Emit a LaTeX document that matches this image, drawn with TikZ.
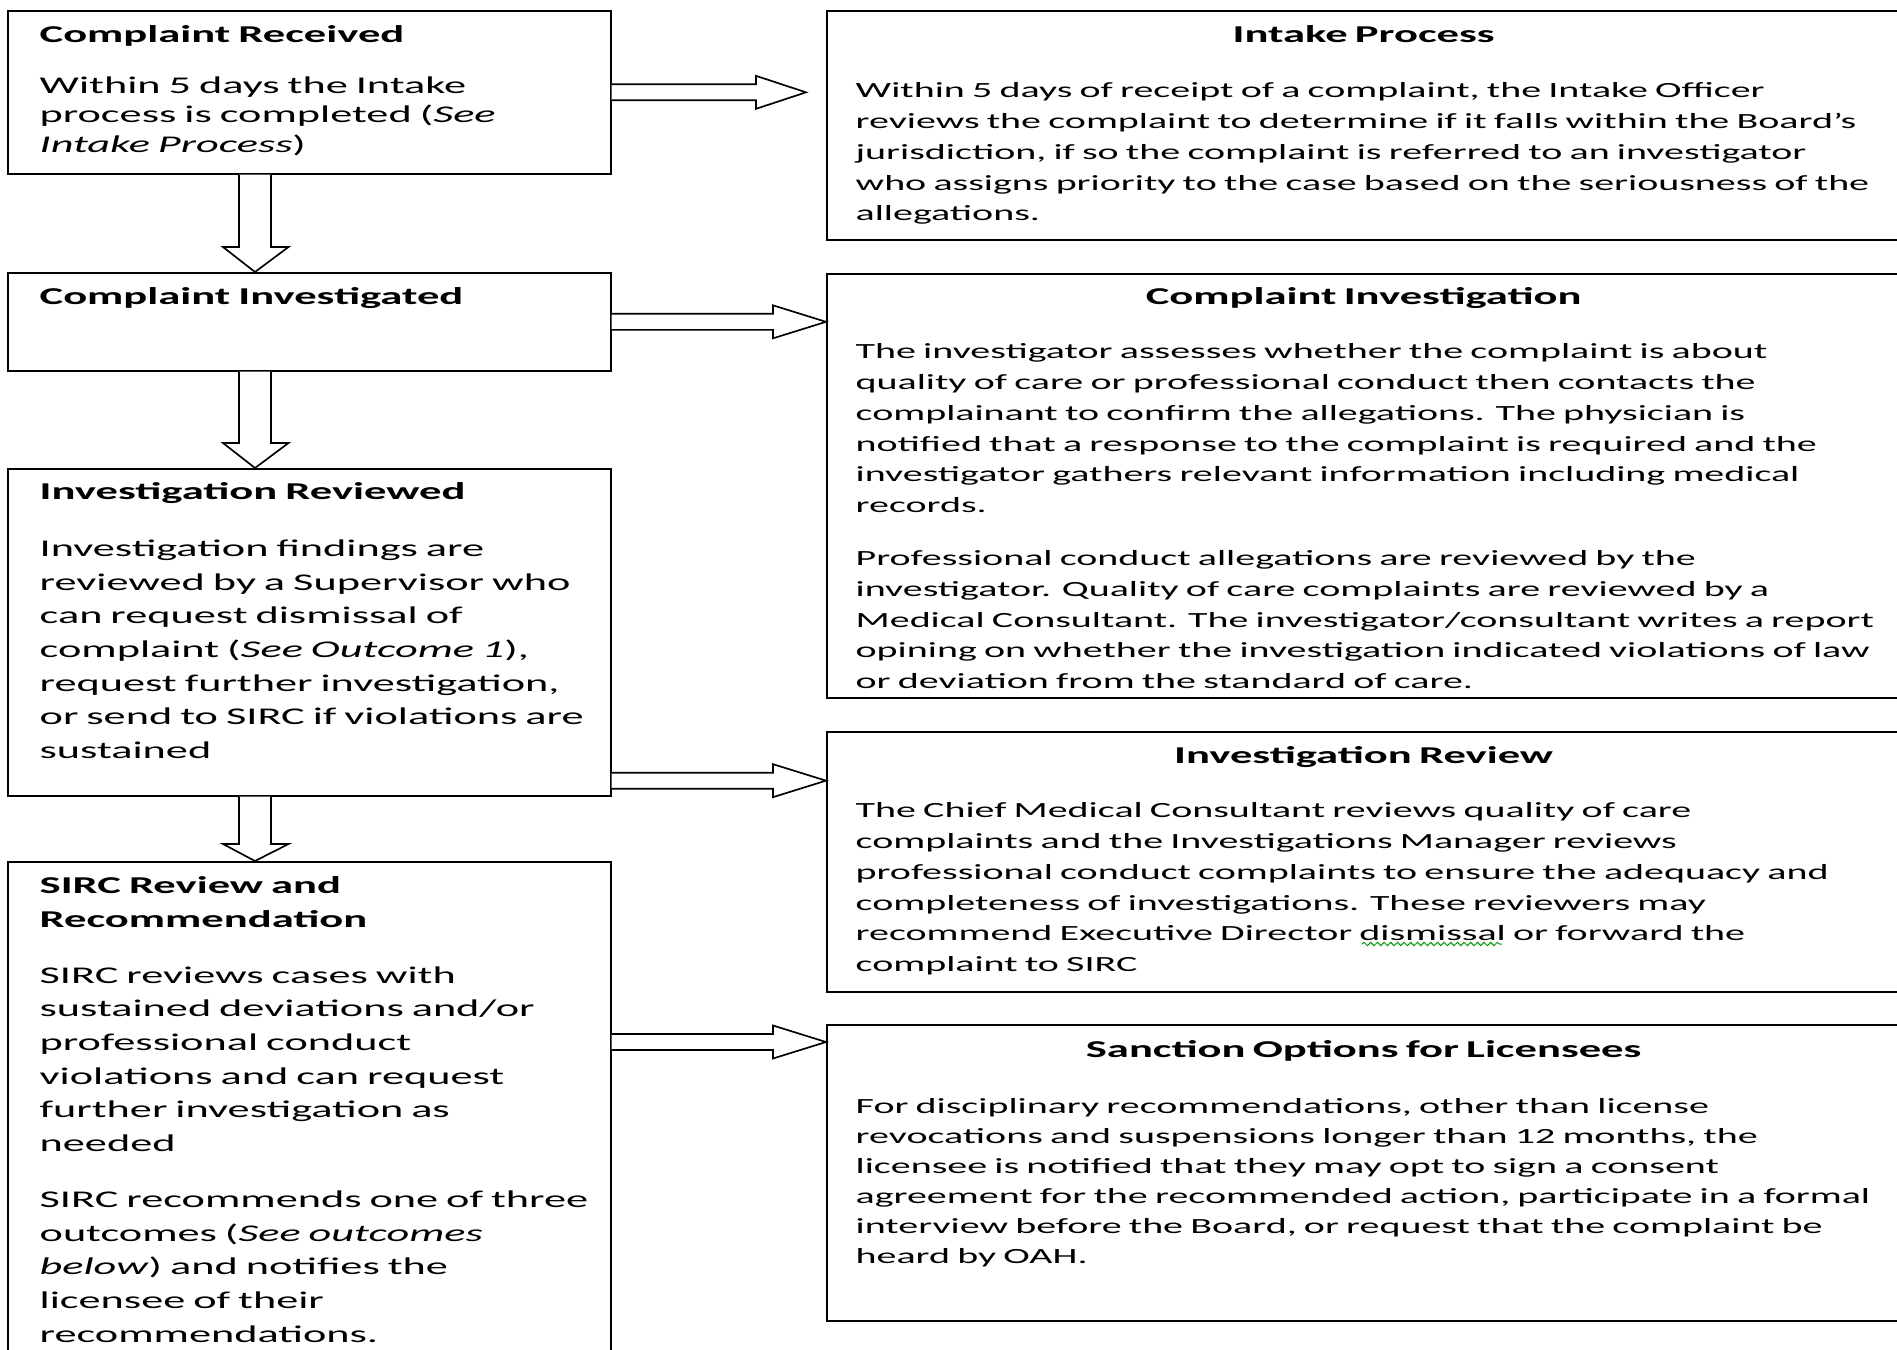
\documentclass[tikz,border=0pt]{standalone}
\usepackage{fontspec}
\setmainfont{Carlito}[FakeStretch=1.845]
\usetikzlibrary{calc, decorations.pathmorphing}

\newcommand\rtitle[1]{\makebox[304.8pt]{\fontsize{7.25}{9.24}\selectfont\bfseries #1}}

\begin{document}
\begin{tikzpicture}[x=0.3pt, y=-0.3pt,
  lbox/.style={draw, line width=0.5pt, anchor=north west, inner sep=0pt, minimum width=180.9pt},
  rbox/.style={draw, line width=0.5pt, anchor=north west, inner sep=0pt, minimum width=322.5pt},
  ltxt/.style={anchor=north west, inner sep=0pt, text width=250pt, align=left, font=\fontsize{7.2}{10.1}\selectfont},
  rtxt/.style={anchor=north west, inner sep=0pt, text width=400pt, align=left, font=\fontsize{6.5}{9.24}\selectfont},
  blk/.style={draw, line width=0.5pt, fill=white}]
\useasboundingbox (0,0) rectangle (1897,1350);

% left column
\node[lbox, minimum height=48.9pt] (cr) at (7,10) {};
\node[lbox, minimum height=29.4pt] (ci) at (7,272) {};
\node[lbox, minimum height=98.1pt] (ir) at (7,468) {};
\node[lbox, minimum height=150pt] (sr) at (7,861) {};

% right column
\node[rbox, minimum height=68.7pt] (ip) at (826,10) {};
\node[rbox, minimum height=127.2pt] (cn) at (826,273) {};
\node[rbox, minimum height=78pt] (rv) at (826,731) {};
\node[rbox, minimum height=88.8pt] (so) at (826,1024) {};

% texts
\node[ltxt, font=\fontsize{7.2}{8.85}\selectfont] (crt) at ($(cr.north west)+(32,11)$) {\strut{\fontsize{7.25}{8.85}\selectfont\bfseries Complaint Received}\\[6.45pt]
Within 5 days the Intake\\
process is completed (\textit{See}\\
\textit{Intake Process})};
\node[ltxt] (cit) at ($(ci.north west)+(32,8.4)$) {\strut{\fontsize{7.25}{10.1}\selectfont\bfseries Complaint Investigated}};
\node[ltxt] (irt) at ($(ir.north west)+(32,7.4)$) {\strut{\fontsize{7.25}{10.1}\selectfont\bfseries Investigation Reviewed}\\[7pt]
Investigation findings are\\
reviewed by a Supervisor who\\
can request dismissal of\\
complaint (\textit{See Outcome 1}),\\
request further investigation,\\
or send to SIRC if violations are\\
sustained};
\node[ltxt] (srt) at ($(sr.north west)+(32,8.4)$) {\strut{\fontsize{7.25}{10.1}\selectfont\bfseries SIRC Review and}\\
{\fontsize{7.25}{10.1}\selectfont\bfseries Recommendation}\\[6.7pt]
SIRC reviews cases with\\
sustained deviations and/or\\
professional conduct\\
violations and can request\\
further investigation as\\
needed\\[6.7pt]
SIRC recommends one of three\\
outcomes (\textit{See outcomes}\\
\textit{below}) and notifies the\\
licensee of their\\
recommendations.};

\node[rtxt] (ipt) at ($(ip.north west)+(29,10.1)$) {\strut\rtitle{Intake Process}\\[7.35pt]
Within 5 days of receipt of a complaint, the Intake Officer\\
reviews the complaint to determine if it falls within the Board’s\\
jurisdiction, if so the complaint is referred to an investigator\\
who assigns priority to the case based on the seriousness of the\\
allegations.};
\node[rtxt] (cnt) at ($(cn.north west)+(29,9.4)$) {\strut\rtitle{Complaint Investigation}\\[7pt]
The investigator assesses whether the complaint is about\\
quality of care or professional conduct then contacts the\\
complainant to confirm the allegations. The physician is\\
notified that a response to the complaint is required and the\\
investigator gathers relevant information including medical\\
records.\\[6.6pt]
Professional conduct allegations are reviewed by the\\
investigator. Quality of care complaints are reviewed by a\\
Medical Consultant. The investigator/consultant writes a report\\
opining on whether the investigation indicated violations of law\\
or deviation from the standard of care.};
\node[rtxt] (rvt) at ($(rv.north west)+(29,10.4)$) {\strut\rtitle{Investigation Review}\\[7pt]
The Chief Medical Consultant reviews quality of care\\
complaints and the Investigations Manager reviews\\
professional conduct complaints to ensure the adequacy and\\
completeness of investigations. These reviewers may\\
recommend Executive Director dismissal or forward the\\
complaint to SIRC};
\node[rtxt, font=\fontsize{6.5}{9}\selectfont] (sot) at ($(so.north west)+(29,12)$) {\strut\rtitle{Sanction Options for Licensees}\\[7.8pt]
For disciplinary recommendations, other than license\\
revocations and suspensions longer than 12 months, the\\
licensee is notified that they may opt to sign a consent\\
agreement for the recommended action, participate in a formal\\
interview before the Board, or request that the complaint be\\
heard by OAH.};

% spelling mark
\draw[green!60!black, line width=0.3pt, decorate, decoration={snake, amplitude=0.5pt, segment length=2pt}] ($(rv.north west)+(536,213)$) -- ++(140,0);

% down arrows
\draw[blk] ($(cr.south west)+(232,0)$) -- ($(ci.north west)+(232,-25)$) -- ++(-16,0) -- ($(ci.north west)+(248,0)$) -- ++(33.5,-25) -- ++(-17.5,0) -- ($(cr.south west)+(264,0)$);
\draw[blk] ($(ci.south west)+(232,0)$) -- ($(ir.north west)+(232,-25)$) -- ++(-16,0) -- ($(ir.north west)+(248,0)$) -- ++(33.5,-25) -- ++(-17.5,0) -- ($(ci.south west)+(264,0)$);
\draw[blk] ($(ir.south west)+(232,0)$) -- ($(sr.north west)+(232,-17)$) -- ++(-16,0) -- ($(sr.north west)+(248,0)$) -- ++(33.5,-17) -- ++(-17.5,0) -- ($(ir.south west)+(264,0)$);

% side arrows
\coordinate (a1) at (cr.east);
\coordinate (a2) at (ci.east);
\coordinate (a3) at ($(ir.south east)+(0,-16)$);
\coordinate (a4) at ($(sr.north east)+(0,181)$);
\draw[blk] ($(a1)+(0,-8)$) -- ($(a1 -| ip.west)+(-70,-8)$) -- ++(0,-8.5) -- ($(a1 -| ip.west)+(-20,0)$) -- ++(-50,16.5) -- ++(0,-8.5) -- ($(a1)+(0,8)$);
\draw[blk] ($(a2)+(0,-8)$) -- ($(a2 -| cn.west)+(-53,-8)$) -- ++(0,-8.5) -- (a2 -| cn.west) -- ++(-53,16.5) -- ++(0,-8.5) -- ($(a2)+(0,8)$);
\draw[blk] ($(a3)+(0,-8)$) -- ($(a3 -| rv.west)+(-53,-8)$) -- ++(0,-8.5) -- (a3 -| rv.west) -- ++(-53,16.5) -- ++(0,-8.5) -- ($(a3)+(0,8)$);
\draw[blk] ($(a4)+(0,-8)$) -- ($(a4 -| so.west)+(-53,-8)$) -- ++(0,-8.5) -- (a4 -| so.west) -- ++(-53,16.5) -- ++(0,-8.5) -- ($(a4)+(0,8)$);
\end{tikzpicture}
\end{document}
